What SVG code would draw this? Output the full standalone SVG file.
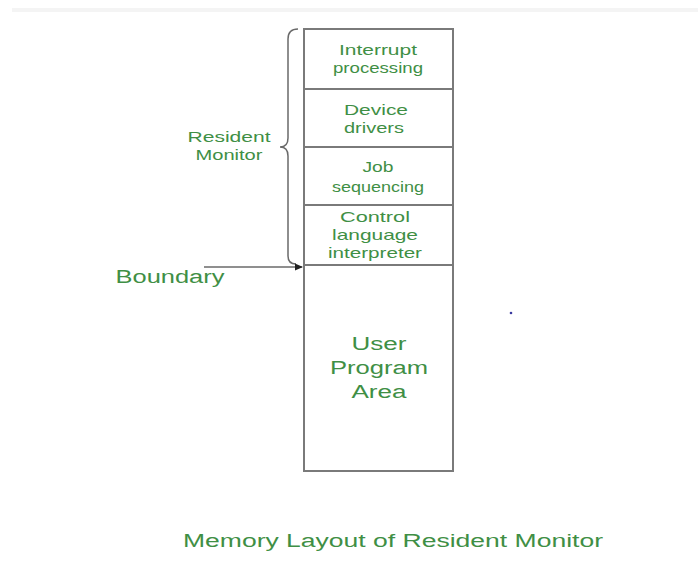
<svg xmlns="http://www.w3.org/2000/svg" width="698" height="562" viewBox="0 0 698 562">
<style>
.t{font-family:"Liberation Sans",Arial,sans-serif;fill:#3f8f45;text-anchor:middle}
.s{font-size:15px}
.l{font-size:18px}
.box{fill:#fff;stroke:#7a7a7a;stroke-width:2}
.ln{fill:none;stroke:#6a6a6a;stroke-width:1.5}
</style>
<defs>
<marker id="ah" markerWidth="8" markerHeight="8" refX="7" refY="4" orient="auto" markerUnits="userSpaceOnUse">
<path d="M0,0.5 L8,4 L0,7.5 Z" fill="#222"/>
</marker>
</defs>
<rect x="0" y="0" width="698" height="562" fill="#fff"/>
<rect x="12" y="8" width="686" height="4" fill="#f4f4f4"/>
<g id="interrupt">
<rect class="box" x="304" y="29" width="149" height="60"/>
<text class="t s" x="378" y="55" textLength="78" lengthAdjust="spacingAndGlyphs">Interrupt</text>
<text class="t s" x="378" y="73" textLength="90" lengthAdjust="spacingAndGlyphs">processing</text>
</g>
<g id="drivers">
<rect class="box" x="304" y="89" width="149" height="58"/>
<text class="t s" x="376" y="115" textLength="64" lengthAdjust="spacingAndGlyphs">Device</text>
<text class="t s" x="374" y="133" textLength="60" lengthAdjust="spacingAndGlyphs">drivers</text>
</g>
<g id="job">
<rect class="box" x="304" y="147" width="149" height="58"/>
<text class="t s" x="378" y="172" textLength="31" lengthAdjust="spacingAndGlyphs">Job</text>
<text class="t s" x="378" y="192" textLength="92" lengthAdjust="spacingAndGlyphs">sequencing</text>
</g>
<g id="control">
<rect class="box" x="304" y="205" width="149" height="60"/>
<text class="t s" x="375" y="222" textLength="70" lengthAdjust="spacingAndGlyphs">Control</text>
<text class="t s" x="375" y="240" textLength="86" lengthAdjust="spacingAndGlyphs">language</text>
<text class="t s" x="375" y="258" textLength="94" lengthAdjust="spacingAndGlyphs">interpreter</text>
</g>
<g id="user">
<rect class="box" x="304" y="265" width="149" height="206"/>
<text class="t l" x="379" y="350" textLength="55" lengthAdjust="spacingAndGlyphs">User</text>
<text class="t l" x="379" y="374" textLength="98" lengthAdjust="spacingAndGlyphs">Program</text>
<text class="t l" x="379" y="398" textLength="55" lengthAdjust="spacingAndGlyphs">Area</text>
</g>
<g id="resident-monitor">
<text class="t s" x="229" y="142" textLength="83" lengthAdjust="spacingAndGlyphs">Resident</text>
<text class="t s" x="229" y="160" textLength="67" lengthAdjust="spacingAndGlyphs">Monitor</text>
</g>
<g id="boundary">
<text class="t l" x="170" y="283" textLength="109" lengthAdjust="spacingAndGlyphs">Boundary</text>
</g>
<g id="connectors">
<path class="ln" d="M298,29 Q288,29 288,39 L288,138 Q288,147 280,147 Q288,147 288,156 L288,256 Q288,264 296,264"/>
<line class="ln" x1="204" y1="267" x2="302" y2="267" marker-end="url(#ah)"/>
</g>
<circle cx="511" cy="313" r="1.3" fill="#3a3aa0"/>
<g id="caption">
<text class="t l" x="393" y="547" textLength="420" lengthAdjust="spacingAndGlyphs">Memory Layout of Resident Monitor</text>
</g>
</svg>
